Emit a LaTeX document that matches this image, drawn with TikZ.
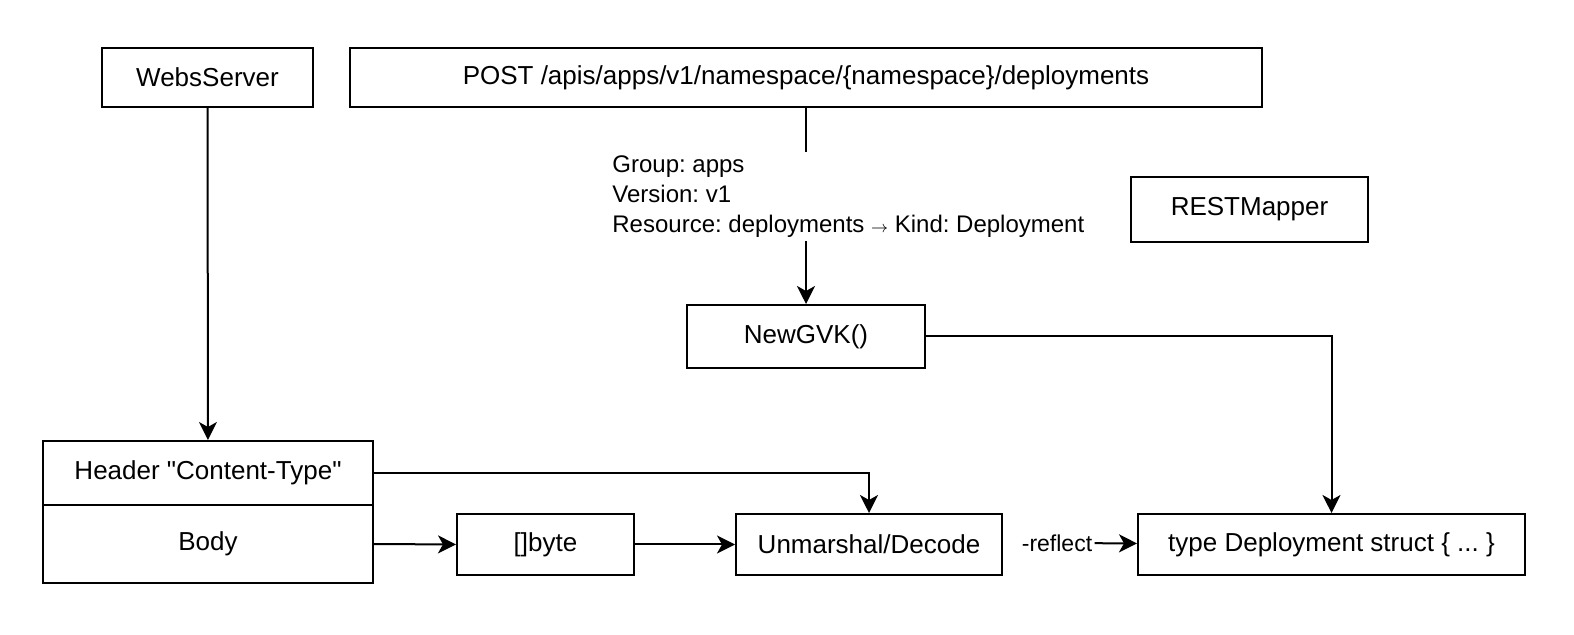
\documentclass[tikz,border=0pt]{standalone}
\usepackage{fontspec}
\setmainfont{Liberation Sans}
\usetikzlibrary{arrows.meta}
\frenchspacing
\begin{document}
\begin{tikzpicture}[x=0.5pt,y=-0.5pt,
  box/.style={draw, line width=1pt, inner sep=0pt, font=\fontsize{13}{15}\selectfont},
  arr/.style={line width=1pt, -{Stealth[length=9pt,width=9pt,inset=2.5pt]}}]
\useasboundingbox (0,0) rectangle (1574,635);
\draw (207.5,77.5) node[box, minimum width=105.5pt, minimum height=29.5pt] (webs) {WebsServer};
\draw (806,77.5) node[box, minimum width=456pt, minimum height=29.5pt] (post) {POST /apis/apps/v1/namespace/\{namespace\}/deployments};
\draw (1249.5,209.5) node[box, minimum width=118.5pt, minimum height=32.5pt] (rest) {RESTMapper};
\draw (806,336.5) node[box, minimum width=119pt, minimum height=31.5pt] (gvk) {NewGVK()};
\draw (208,473) node[box, minimum width=165pt, minimum height=32pt] (header) {Header \textquotedbl Content-Type\textquotedbl};
\draw (208,544) node[box, minimum width=165pt, minimum height=39pt] (body) {Body};
\draw (545.5,544.5) node[box, minimum width=88.5pt, minimum height=30.5pt] (bytes) {[]byte};
\draw (869,544.5) node[box, minimum width=133pt, minimum height=30.5pt] (unm) {Unmarshal/Decode};
\draw (1331.5,544.5) node[box, minimum width=193.5pt, minimum height=30.5pt] (deploy) {type Deployment struct \{ ... \}};
\draw (1057,543) node[font=\fontsize{11.5}{15}\selectfont, inner sep=1pt] (reflect) {-reflect};
\draw[arr] (webs) -- (header);
\draw[arr] (post) -- (gvk);
\draw (608,196.5) node[anchor=west, fill=white, align=left, inner sep=2pt, font=\fontsize{12}{15}\selectfont] (gvr) {Group: apps\\Version: v1\\Resource: deployments {\fontsize{8}{10}\selectfont$\rightarrow$} Kind: Deployment};
\draw[arr] (gvk.east) -| (deploy.north);
\draw[arr] (header.east) -| (unm.north);
\draw[arr] (body.east) -- (bytes.west);
\draw[arr] (bytes) -- (unm);
\draw[arr] (reflect) -- (deploy);
\end{tikzpicture}
\end{document}
